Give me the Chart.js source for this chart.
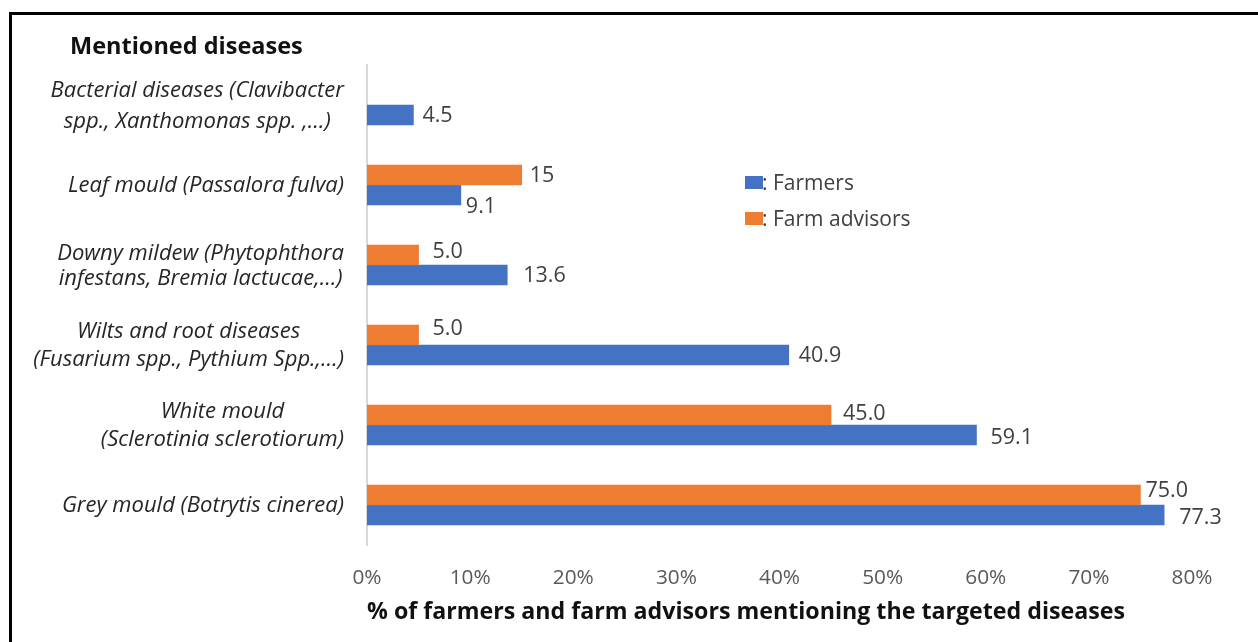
<!DOCTYPE html>
<html><head><meta charset="utf-8">
<script src="https://cdn.jsdelivr.net/npm/chart.js@4"></script>
<style>
html,body{margin:0;padding:0;background:#fff;overflow:hidden}
#wrap{position:relative;width:1258px;height:642px}
#frame{position:absolute;left:9px;top:12px;width:1400px;height:900px;border:3px solid #000;box-sizing:border-box;pointer-events:none}
canvas{position:absolute;left:0;top:0}
</style></head><body>
<div id="wrap"><canvas id="c" width="1258" height="642"></canvas><div id="frame"></div></div>
<script>
const categories = [
  ['Bacterial diseases (Clavibacter', 'spp., Xanthomonas spp. ,…)'],
  ['Leaf mould (Passalora fulva)'],
  ['Downy mildew (Phytophthora', 'infestans, Bremia lactucae,…)'],
  ['Wilts and root diseases', '(Fusarium spp., Pythium Spp.,…)'],
  ['White mould', '(Sclerotinia sclerotiorum)'],
  ['Grey mould (Botrytis cinerea)']
];
const farmers = [4.5, 9.1, 13.6, 40.9, 59.1, 77.3];
const advisors = [null, 15, 5.0, 5.0, 45.0, 75.0];
const farmerLabels = ['4.5', '9.1', '13.6', '40.9', '59.1', '77.3'];
const advisorLabels = ['', '15', '5.0', '5.0', '45.0', '75.0'];
const xTickValues = [0, 10, 20, 30, 40, 50, 60, 70, 80];
const seriesNames = ['Farmers', 'Farm advisors'];
const chartTitle = 'Mentioned diseases';
const xTitle = '% of farmers and farm advisors mentioning the targeted diseases';

const BLUE = '#4472C4', ORANGE = '#ED7D31';
const FF = '"Open Sans", sans-serif';
const TXT = '#404040';

const labelNudges = {
  'f0': [-3, 0], 'a1': [-4, 0], 'f1': [-7, 11], 'a2': [2, -4], 'f2': [4, 0],
  'a3': [2, -7], 'f3': [-2, 0], 'a4': [0, -2], 'f4': [2, 2], 'a5': [-7, -5], 'f5': [3, 2]
};
const catLineGaps = [31, 28, 25, 28, 28, 28];

const overlay = {
  id: 'overlay',
  afterDraw(chart) {
    const ctx = chart.ctx;
    const y = chart.scales.y;
    ctx.save();
    ctx.font = 'italic 22px ' + FF;
    ctx.fillStyle = '#262626';
    ctx.textBaseline = 'middle';
    ctx.textAlign = 'center';
    const right = 344;
    categories.forEach((lines, i) => {
      const lh = catLineGaps[i];
      const cy = y.getPixelForValue(i) + 1;
      const maxW = Math.max(...lines.map(l => ctx.measureText(l).width));
      const cx = right - maxW / 2;
      const y0 = cy - (lines.length - 1) * lh / 2;
      lines.forEach((l, k) => ctx.fillText(l, cx, y0 + k * lh));
    });
    ctx.font = 'bold 23.5px ' + FF;
    ctx.fillStyle = '#111';
    ctx.textAlign = 'left';
    ctx.fillText(chartTitle, 70, 47);
    ctx.font = '21px ' + FF;
    ctx.fillStyle = BLUE; ctx.fillRect(745, 176, 18, 13);
    ctx.fillStyle = ORANGE; ctx.fillRect(745, 212, 18, 13);
    ctx.fillStyle = TXT;
    ctx.fillText(': ' + seriesNames[0], 762, 184);
    ctx.fillText(': ' + seriesNames[1], 762, 220);
    ctx.restore();
  },
  afterDatasetsDraw(chart) {
    const ctx = chart.ctx;
    ctx.save();
    ctx.font = '21.5px ' + FF;
    ctx.fillStyle = TXT;
    ctx.textBaseline = 'middle';
    ctx.textAlign = 'left';
    chart.data.datasets.forEach((ds, di) => {
      const labs = di === 0 ? advisorLabels : farmerLabels;
      chart.getDatasetMeta(di).data.forEach((el, i) => {
        const t = labs[i];
        if (!t) return;
        const n = labelNudges[(di === 0 ? 'a' : 'f') + i] || [0, 0];
        ctx.fillText(t, el.x + 12 + n[0], el.y + 1 + n[1]);
      });
    });
    ctx.restore();
  }
};

new Chart(document.getElementById('c'), {
  type: 'bar',
  data: {
    labels: categories,
    datasets: [
      { label: seriesNames[1], data: advisors, backgroundColor: ORANGE, barThickness: 20 },
      { label: seriesNames[0], data: farmers, backgroundColor: BLUE, barThickness: 20 }
    ]
  },
  options: {
    indexAxis: 'y',
    responsive: false,
    animation: false,
    events: [],
    layout: { padding: { top: 65, right: 66, left: 0, bottom: 0 } },
    plugins: { legend: { display: false }, tooltip: { enabled: false }, title: { display: false } },
    scales: {
      y: {
        grid: { display: false },
        border: { display: true, color: '#d9d9d9', width: 2 },
        ticks: { display: false },
        afterFit(s) { s.width = 367; }
      },
      x: {
        min: 0, max: 80,
        afterBuildTicks(s) { s.ticks = xTickValues.map(v => ({ value: v })); },
        grid: { display: false, drawTicks: false },
        border: { display: false },
        ticks: { callback: v => v + '%', font: { family: FF, size: 20.8 }, color: '#595959', padding: 21, maxRotation: 0 },
        title: { display: true, text: xTitle, align: 'start', color: '#111', font: { family: FF, size: 23.2, weight: 'bold' }, padding: { top: 0, bottom: 16 } },
        afterFit(s) { s.height = 97; }
      }
    }
  },
  plugins: [overlay]
});
</script>
</body></html>
